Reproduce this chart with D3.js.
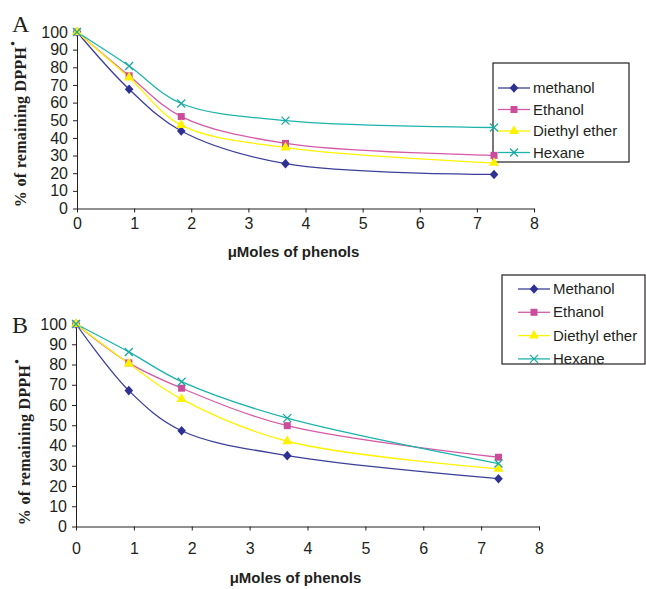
<!DOCTYPE html>
<html>
<head>
<meta charset="utf-8">
<script src="https://cdn.jsdelivr.net/npm/d3@7"></script>
<style>
  body { margin: 0; background: #fff; }
  .tick text { font-family: Arial, 'Liberation Sans', sans-serif; font-size: 16px; fill: #231f20; }
  .tick line, .domain { stroke: #231f20; }
</style>
</head>
<body>
<div id="chart"></div>
<script>
// Data
const xMoles = [0, 0.9125, 1.825, 3.65, 7.3];
const xTicks = [0, 1, 2, 3, 4, 5, 6, 7, 8];
const yTicks = [0, 10, 20, 30, 40, 50, 60, 70, 80, 90, 100];

const namesA = ['methanol', 'Ethanol', 'Diethyl ether', 'Hexane'];
const methanolA = [100, 67.6, 43.9, 25.4, 19.3];
const ethanolA = [100, 75.2, 52.1, 36.9, 30.1];
const etherA = [100, 74.2, 47.2, 34.5, 25.8];
const hexaneA = [100, 80.7, 59.5, 49.8, 45.9];

const namesB = ['Methanol', 'Ethanol', 'Diethyl ether', 'Hexane'];
const methanolB = [100, 67.1, 47.3, 35.0, 23.6];
const ethanolB = [100, 80.8, 68.3, 49.8, 34.2];
const etherB = [100, 80.5, 62.9, 42.1, 28.5];
const hexaneB = [100, 86.2, 71.5, 53.5, 31.1];

// Series styles (same order as the names)
const lineColors = ['#3b3f98', '#d45aa8', '#fff200', '#1cb3ac'];
const markColors = ['#2e3192', '#cc4c9c', '#fff200', '#1aa9a2'];
const markTypes = ['diamond', 'square', 'triangle', 'x'];

const svg = d3.select('#chart').append('svg')
  .attr('width', 646)
  .attr('height', 589);

function drawMarker(g, type, color) {
  if (type === 'x') {
    const s = 4;
    g.append('path')
      .attr('d', `M${-s},${-s}L${s},${s}M${-s},${s}L${s},${-s}`)
      .attr('stroke', color)
      .attr('stroke-width', 1.3)
      .attr('fill', 'none');
  } else if (type === 'diamond') {
    g.append('path')
      .attr('d', 'M0,-4.8L4.3,0L0,4.8L-4.3,0Z')
      .attr('fill', color);
  } else {
    const sym = type === 'square' ? d3.symbolSquare : d3.symbolTriangle;
    const size = type === 'square' ? 49 : 44;
    g.append('path')
      .attr('d', d3.symbol().type(sym).size(size)())
      .attr('fill', color);
  }
}

function drawPanel(cfg) {
  const x = d3.scaleLinear().domain([0, 8]).range([cfg.left, cfg.right]);
  const y = d3.scaleLinear().domain([0, 100]).range([cfg.bottom, cfg.top]);

  // Axes
  svg.append('g')
    .attr('transform', `translate(0, ${cfg.bottom})`)
    .call(d3.axisBottom(x).tickValues(xTicks).tickSize(4).tickSizeOuter(0).tickPadding(cfg.xPad).tickFormat(d3.format('d')));
  svg.append('g')
    .attr('transform', `translate(${cfg.left}, 0)`)
    .call(d3.axisLeft(y).tickValues(yTicks).tickSize(4).tickSizeOuter(0).tickPadding(5));
  svg.selectAll('.tick text').attr('font-family', null).attr('font-size', null);

  // Axis titles
  svg.append('text')
    .attr('x', (cfg.left + cfg.right) / 2 - 12)
    .attr('y', cfg.xTitleY)
    .attr('text-anchor', 'middle')
    .attr('font-family', 'Arial, Liberation Sans, sans-serif')
    .attr('font-weight', 'bold')
    .attr('font-size', 15)
    .attr('fill', '#231f20')
    .text('μMoles of phenols');

  const yt = svg.append('text')
    .attr('transform', `translate(${cfg.yTitleX}, ${cfg.yTitleY}) rotate(-90)`)
    .attr('text-anchor', 'middle')
    .attr('font-family', 'Times New Roman, Liberation Serif, serif')
    .attr('font-weight', 'bold')
    .attr('font-size', 16)
    .attr('letter-spacing', 0.3)
    .attr('fill', '#231f20');
  yt.append('tspan').text('% of remaining DPPH');
  yt.append('tspan').attr('dx', 1).attr('dy', -9).attr('font-size', 13).text('•');

  // Panel letter
  svg.append('text')
    .attr('x', cfg.letterX)
    .attr('y', cfg.letterY)
    .attr('font-family', 'Times New Roman, Liberation Serif, serif')
    .attr('font-size', 24)
    .attr('fill', '#231f20')
    .text(cfg.letter);

  // Legend (drawn first so end markers sit on its border)
  const lg = svg.append('g');
  lg.append('rect')
    .attr('x', cfg.legend.x)
    .attr('y', cfg.legend.y)
    .attr('width', cfg.legend.w)
    .attr('height', cfg.legend.h)
    .attr('fill', '#fff')
    .attr('stroke', '#231f20')
    .attr('stroke-width', 1.2);
  cfg.names.forEach((name, k) => {
    const ly = cfg.legend.y + cfg.legend.first + k * cfg.legend.step;
    lg.append('line')
      .attr('x1', cfg.legend.x + cfg.legend.pad)
      .attr('x2', cfg.legend.x + cfg.legend.pad + 32)
      .attr('y1', ly).attr('y2', ly)
      .attr('stroke', lineColors[k])
      .attr('stroke-width', 1.3);
    const g = lg.append('g').attr('transform', `translate(${cfg.legend.x + cfg.legend.pad + 16}, ${ly})`);
    drawMarker(g, markTypes[k], markColors[k]);
    lg.append('text')
      .attr('x', cfg.legend.x + cfg.legend.pad + 35)
      .attr('y', ly + 5)
      .attr('font-family', 'Arial, Liberation Sans, sans-serif')
      .attr('font-size', 15)
      .attr('fill', '#231f20')
      .text(name);
  });

  // Lines and markers
  const line = d3.line()
    .x((d, i) => x(xMoles[i]))
    .y(d => y(d))
    .curve(d3.curveCatmullRom.alpha(0.5));

  cfg.series.forEach((vals, k) => {
    svg.append('path')
      .attr('d', line(vals))
      .attr('fill', 'none')
      .attr('stroke', lineColors[k])
      .attr('stroke-width', 1.3);
  });
  cfg.series.forEach((vals, k) => {
    vals.forEach((v, i) => {
      const g = svg.append('g').attr('transform', `translate(${x(xMoles[i])}, ${y(v)})`);
      drawMarker(g, markTypes[k], markColors[k]);
    });
  });
}

drawPanel({
  letter: 'A', letterX: 12, letterY: 32,
  left: 77, right: 534, top: 32, bottom: 208.5, xPad: 5,
  xTitleY: 257, yTitleX: 26, yTitleY: 124,
  names: namesA,
  series: [methanolA, ethanolA, etherA, hexaneA],
  legend: { x: 493, y: 63, w: 136, h: 99, first: 25, step: 21.5, pad: 5 }
});

drawPanel({
  letter: 'B', letterX: 12, letterY: 333,
  left: 76, right: 539, top: 324, bottom: 526.5, xPad: 12,
  xTitleY: 583, yTitleX: 30, yTitleY: 442,
  names: namesB,
  series: [methanolB, ethanolB, etherB, hexaneB],
  legend: { x: 502, y: 275, w: 143, h: 89, first: 14, step: 23.3, pad: 16 }
});
</script>
</body>
</html>
